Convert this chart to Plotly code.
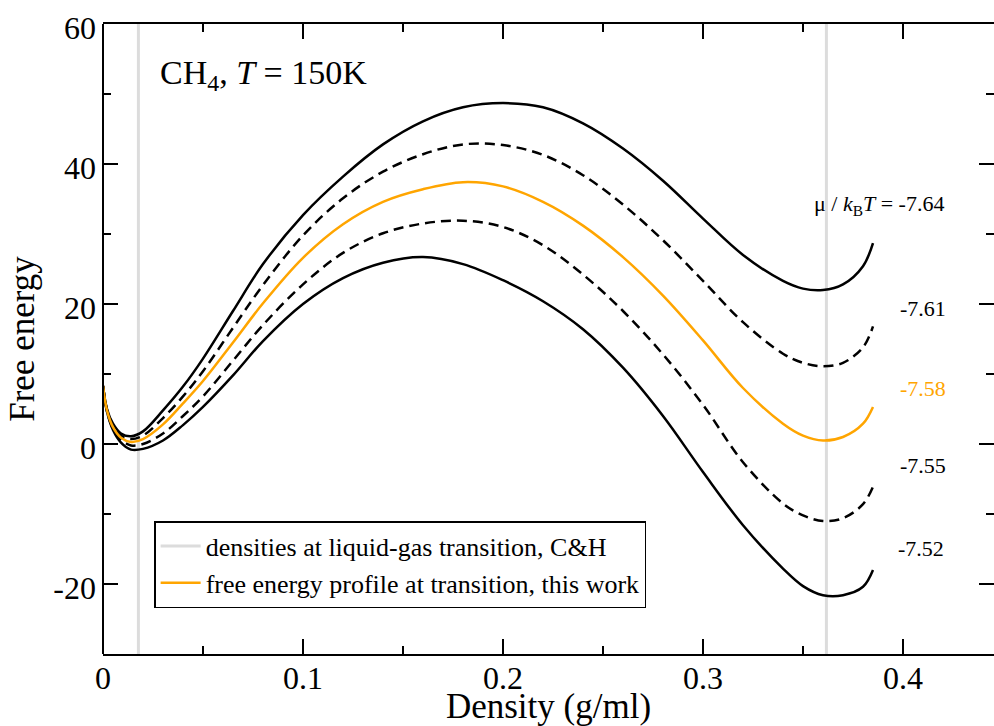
import plotly.graph_objects as go

# ---- data ----
density = [0, 0.002, 0.005, 0.009, 0.014, 0.02, 0.03, 0.04, 0.05, 0.065, 0.08, 0.1,
           0.12, 0.14, 0.16, 0.18, 0.2, 0.22, 0.24, 0.26, 0.28, 0.30, 0.32, 0.34,
           0.35, 0.36, 0.37, 0.38, 0.385]

f_764 = [8.3, 5.0, 2.9, 1.5, 1.1, 1.8, 4.8, 8.2, 12.2, 19.0, 25.7, 32.7,
         38.2, 42.8, 46.1, 48.1, 48.7, 48.1, 45.8, 42.2, 37.6, 32.2, 27.0, 23.3,
         22.2, 22.0, 22.8, 25.4, 28.7]
f_761 = [8.3, 4.9, 2.6, 1.2, 0.7, 1.2, 3.7, 6.8, 10.4, 16.6, 22.7, 29.8,
         35.1, 38.9, 41.4, 42.8, 42.7, 41.3, 38.4, 34.2, 29.1, 23.3, 17.4, 12.9,
         11.6, 11.1, 11.6, 13.8, 16.8]
f_758 = [8.3, 4.8, 2.4, 0.9, 0.3, 0.7, 2.8, 5.8, 9.0, 14.5, 20.1, 26.6,
         31.4, 34.6, 36.4, 37.4, 36.8, 34.6, 31.2, 26.7, 21.2, 14.8, 8.0, 2.9,
         1.2, 0.5, 1.0, 2.9, 5.3]
f_755 = [8.3, 4.7, 2.2, 0.6, -0.2, 0.0, 1.5, 4.0, 6.8, 11.9, 17.0, 22.8,
         27.3, 30.1, 31.5, 31.9, 31.0, 28.4, 24.2, 19.0, 12.8, 5.6, -2.6, -8.5,
         -10.2, -11.0, -10.6, -8.6, -6.1]
f_752 = [8.3, 4.6, 2.0, 0.2, -0.8, -0.7, 0.5, 2.7, 5.3, 9.8, 14.7, 20.0,
         23.7, 25.9, 26.7, 25.7, 23.4, 20.4, 16.4, 10.9, 4.0, -4.0, -11.6, -17.8,
         -20.3, -21.6, -21.6, -20.4, -18.0]

transition_densities = [0.0177, 0.3617]
mu_labels = ["-7.64", "-7.61", "-7.58", "-7.55", "-7.52"]
legend_names = ["densities at liquid-gas transition, C&H",
                "free energy profile at transition, this work"]

x_tickvals = [0, 0.1, 0.2, 0.3, 0.4]
x_ticktext = ["0", "0.1", "0.2", "0.3", "0.4"]
y_tickvals = [-20, 0, 20, 40, 60]
y_ticktext = ["-20", "0", "20", "40", "60"]

# ---- styling ----
FONT = "Liberation Serif"
ORANGE = "#FFA500"
GRAY = "#DCDCDC"
SMOOTH = 1.0

fig = go.Figure()

# gray vertical lines (transition densities)
for i, d in enumerate(transition_densities):
    fig.add_trace(go.Scatter(
        x=[d, d], y=[-30, 60], mode="lines",
        line=dict(color=GRAY, width=3),
        name=legend_names[0], showlegend=(i == 0), hoverinfo="skip"))

curves = [
    (f_764, "solid"),
    (f_761, "10px,6px"),
    (f_755, "10px,6px"),
    (f_752, "solid"),
]
for ys, dash in curves:
    fig.add_trace(go.Scatter(x=density, y=ys, mode="lines",
                             line=dict(color="black", width=2.5, dash=dash,
                                       shape="spline", smoothing=SMOOTH),
                             showlegend=False))

fig.add_trace(go.Scatter(x=density, y=f_758, mode="lines",
                         line=dict(color=ORANGE, width=2.5,
                                   shape="spline", smoothing=SMOOTH),
                         name=legend_names[1], showlegend=True))

tick_common = dict(
    ticks="inside", ticklen=15, tickwidth=2, tickcolor="black",
    showgrid=False, zeroline=False, automargin=False,
    tickfont=dict(family=FONT, size=32, color="black"),
)

fig.update_xaxes(
    range=[0, 0.4455], tickmode="array", tickvals=x_tickvals, ticktext=x_ticktext,
    showline=True, linewidth=2, linecolor="black", mirror="allticks",
    minor=dict(tickmode="linear", tick0=0, dtick=0.05, ticks="inside",
               ticklen=8, tickwidth=2, tickcolor="black"),
    title=dict(text="Density (g/ml)", font=dict(family=FONT, size=35, color="black"),
               standoff=13),
    ticklabelstandoff=-5,
    **tick_common)
fig.update_yaxes(
    range=[-30, 60], tickmode="array", tickvals=y_tickvals, ticktext=y_ticktext,
    showline=False, mirror="allticks",
    minor=dict(tickmode="linear", tick0=0, dtick=10, ticks="inside",
               ticklen=8, tickwidth=2, tickcolor="black"),
    title=dict(text="Free energy", font=dict(family=FONT, size=35, color="black"),
               standoff=8),
    ticklabelstandoff=6, ticklabelshift=4,
    **tick_common)

# left axis line (the right frame edge lies outside the visible picture)
fig.add_shape(type="line", xref="paper", yref="paper", x0=0, x1=0, y0=0, y1=1,
              line=dict(color="black", width=2), layer="above")

# annotations
label_x = [0.388, 0.41, 0.41, 0.41, 0.409]
label_y = [34.1, 19.4, 8.0, -3.1, -14.9]
for i, (lab, lx, ly) in enumerate(zip(mu_labels, label_x, label_y)):
    txt = "\u03bc / <i>k</i><sub>B</sub><i>T</i> = " + lab if i == 0 else lab
    fig.add_annotation(x=lx, y=ly, text=txt, showarrow=False,
                       xanchor="center", yanchor="middle",
                       font=dict(family=FONT, size=22,
                                 color=ORANGE if i == 2 else "black"))

fig.add_annotation(x=0.0275, y=52.7, text="CH<sub>4</sub>, <i>T</i> = 150K",
                   showarrow=False, xanchor="left", yanchor="middle",
                   font=dict(family=FONT, size=34, color="black"))

fig.update_layout(
    width=994, height=726, autosize=False,
    margin=dict(l=103, r=0, t=24, b=72, pad=0, autoexpand=False),
    paper_bgcolor="white", plot_bgcolor="white",
    font=dict(family=FONT, color="black"),
    legend=dict(x=0.0574, y=0.211, xanchor="left", yanchor="top",
                bgcolor="white", bordercolor="black", borderwidth=1.5,
                font=dict(family=FONT, size=26, color="black"),
                itemwidth=40, tracegroupgap=0),
)

fig.write_html("out.html")
